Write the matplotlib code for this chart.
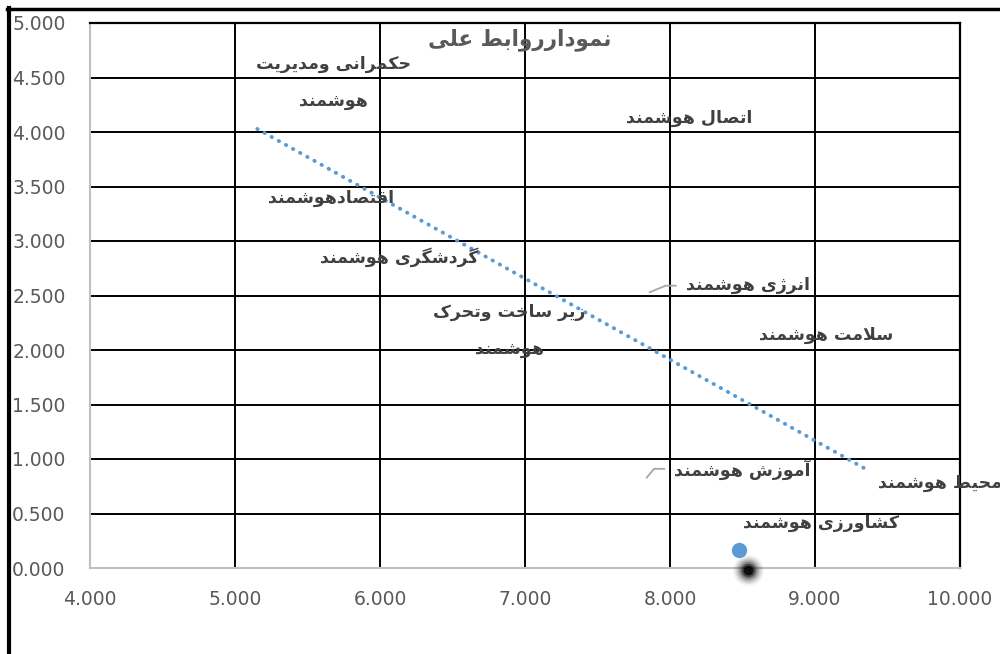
"""Causal relations scatter chart (Persian labels) with dotted linear trendline."""

import matplotlib
matplotlib.use("Agg")

import matplotlib.pyplot as plt
from matplotlib.lines import Line2D
import numpy as np

# ── data ────────────────────────────────────────────────────────────────
title = "نمودارروابط علی"
categories = [
    "حکمرانی ومدیریت\nهوشمند",
    "اتصال هوشمند",
    "اقتصادهوشمند",
    "گردشگری هوشمند",
    "زیر ساخت وتحرک\nهوشمند",
    "انرژی هوشمند",
    "سلامت هوشمند",
    "آموزش هوشمند",
    "محیط هوشمند",
    "کشاورزی هوشمند",
]
label_x = [5.68, 8.13, 5.66, 6.13, 6.89, 8.54, 9.08, 8.50, 9.86, 9.04]
label_y = [4.45, 4.13, 3.39, 2.85, 2.18, 2.60, 2.14, 0.90, 0.78, 0.41]

point_x = [8.476]
point_y = [0.167]
shadow_x = [8.54]
shadow_y = [-0.02]

trend_x = [5.154, 9.338]
trend_y = [4.028, 0.917]

x_ticks = [4, 5, 6, 7, 8, 9, 10]
y_ticks = [0, 0.5, 1, 1.5, 2, 2.5, 3, 3.5, 4, 4.5, 5]

# ── minimal Persian shaping (matplotlib has no complex text layout) ─────
FORMS = {
    "\u0627": ("\uFE8D", "\uFE8E", None, None),
    "\u0622": ("\uFE81", "\uFE82", None, None),
    "\u0628": ("\uFE8F", "\uFE90", "\uFE91", "\uFE92"),
    "\u067E": ("\uFB56", "\uFB57", "\uFB58", "\uFB59"),
    "\u062A": ("\uFE95", "\uFE96", "\uFE97", "\uFE98"),
    "\u062B": ("\uFE99", "\uFE9A", "\uFE9B", "\uFE9C"),
    "\u062C": ("\uFE9D", "\uFE9E", "\uFE9F", "\uFEA0"),
    "\u0686": ("\uFB7A", "\uFB7B", "\uFB7C", "\uFB7D"),
    "\u062D": ("\uFEA1", "\uFEA2", "\uFEA3", "\uFEA4"),
    "\u062E": ("\uFEA5", "\uFEA6", "\uFEA7", "\uFEA8"),
    "\u062F": ("\uFEA9", "\uFEAA", None, None),
    "\u0630": ("\uFEAB", "\uFEAC", None, None),
    "\u0631": ("\uFEAD", "\uFEAE", None, None),
    "\u0632": ("\uFEAF", "\uFEB0", None, None),
    "\u0698": ("\uFB8A", "\uFB8B", None, None),
    "\u0633": ("\uFEB1", "\uFEB2", "\uFEB3", "\uFEB4"),
    "\u0634": ("\uFEB5", "\uFEB6", "\uFEB7", "\uFEB8"),
    "\u0635": ("\uFEB9", "\uFEBA", "\uFEBB", "\uFEBC"),
    "\u0636": ("\uFEBD", "\uFEBE", "\uFEBF", "\uFEC0"),
    "\u0637": ("\uFEC1", "\uFEC2", "\uFEC3", "\uFEC4"),
    "\u0638": ("\uFEC5", "\uFEC6", "\uFEC7", "\uFEC8"),
    "\u0639": ("\uFEC9", "\uFECA", "\uFECB", "\uFECC"),
    "\u063A": ("\uFECD", "\uFECE", "\uFECF", "\uFED0"),
    "\u0641": ("\uFED1", "\uFED2", "\uFED3", "\uFED4"),
    "\u0642": ("\uFED5", "\uFED6", "\uFED7", "\uFED8"),
    "\u06A9": ("\uFB8E", "\uFB8F", "\uFB90", "\uFB91"),
    "\u06AF": ("\uFB92", "\uFB93", "\uFB94", "\uFB95"),
    "\u0644": ("\uFEDD", "\uFEDE", "\uFEDF", "\uFEE0"),
    "\u0645": ("\uFEE1", "\uFEE2", "\uFEE3", "\uFEE4"),
    "\u0646": ("\uFEE5", "\uFEE6", "\uFEE7", "\uFEE8"),
    "\u0648": ("\uFEED", "\uFEEE", None, None),
    "\u0647": ("\uFEE9", "\uFEEA", "\uFEEB", "\uFEEC"),
    "\u06CC": ("\uFBFC", "\uFBFD", "\uFBFE", "\uFBFF"),
}
LAM_ALEF = {"\u0627": ("\uFEFB", "\uFEFC"), "\u0622": ("\uFEF5", "\uFEF6")}


def _joins_next(c):
    return c in FORMS and FORMS[c][2] is not None


def shape_line(text):
    res = []
    i, n = 0, len(text)
    while i < n:
        c = text[i]
        if c not in FORMS:
            res.append(c)
            i += 1
            continue
        prev_j = i > 0 and _joins_next(text[i - 1])
        if c == "\u0644" and i + 1 < n and text[i + 1] in LAM_ALEF:
            iso, fin = LAM_ALEF[text[i + 1]]
            res.append(fin if prev_j else iso)
            i += 2
            continue
        next_j = _joins_next(c) and i + 1 < n and text[i + 1] in FORMS
        iso, fin, ini, med = FORMS[c]
        if prev_j and next_j:
            res.append(med)
        elif prev_j:
            res.append(fin)
        elif next_j:
            res.append(ini)
        else:
            res.append(iso)
        i += 1
    return "".join(reversed(res))


def fa(text):
    return "\n".join(shape_line(t) for t in text.split("\n"))


# ── figure ──────────────────────────────────────────────────────────────
plt.rcParams["font.family"] = ["DejaVu Sans"]

fig = plt.figure(figsize=(10, 6.54), dpi=100)
ax = fig.add_axes([0.09, 1 - 568 / 654, 0.87, 545 / 654])

ax.set_xlim(4, 10)
ax.set_ylim(0, 5)
ax.set_xticks(x_ticks)
ax.set_yticks(y_ticks)
ax.set_xticklabels([f"{v:.3f}" for v in x_ticks])
ax.set_yticklabels([f"{v:.3f}" for v in y_ticks])
ax.tick_params(length=0, labelsize=13.5, labelcolor="#595959")
ax.tick_params(axis="x", pad=16)
ax.tick_params(axis="y", pad=56)
for lab in ax.get_yticklabels():
    lab.set_horizontalalignment("left")

ax.grid(True, color="black", linewidth=1.4)
for side in ("left", "bottom"):
    ax.spines[side].set_color("#BFBFBF")
    ax.spines[side].set_linewidth(1.5)
for side in ("right", "top"):
    ax.spines[side].set_color("black")
    ax.spines[side].set_linewidth(1.6)

# trendline
ax.plot(trend_x, trend_y, color="#5B9BD5", linewidth=2.8,
        linestyle=(0, (0.1, 2.0)), dash_capstyle="round", zorder=3)

# shadowed point near the axis (soft black blob)
for r, a in [(22, 0.06), (19, 0.1), (16, 0.16), (13, 0.25), (10, 0.45),
             (7, 0.8)]:
    ax.plot(shadow_x, shadow_y, "o", color="black", markersize=r, alpha=a,
            markeredgewidth=0, clip_on=False, zorder=4)
ax.plot(point_x, point_y, "o", color="#5B9BD5", markersize=11,
        markeredgewidth=0, clip_on=False, zorder=5)

# data labels
for name, lx, ly in zip(categories, label_x, label_y):
    ax.text(lx, ly, fa(name), ha="center", va="center", fontsize=12.5,
            fontweight="bold", color="#404040", linespacing=2.35,
            clip_on=False, zorder=6)

# leader lines
for (x0, y0), (x1, y1), (x2, y2) in [
    ((7.86, 2.53), (7.97, 2.59), (8.04, 2.59)),
    ((7.84, 0.83), (7.89, 0.91), (7.96, 0.91)),
]:
    ax.plot([x0, x1, x2], [y0, y1, y2], color="#A6A6A6", linewidth=1.3,
            zorder=3)

fig.text(0.52, 1 - 40 / 654, fa(title), ha="center", va="center",
         fontsize=15.5, fontweight="bold", color="#595959")

# outer frame edges (left and top)
fig.add_artist(Line2D([0.009, 0.009], [0, 1 - 8 / 654], color="black",
                      linewidth=3.0, transform=fig.transFigure))
fig.add_artist(Line2D([0.007, 1.0], [1 - 8.5 / 654, 1 - 8.5 / 654],
                      color="black", linewidth=2.5,
                      transform=fig.transFigure))

fig.savefig("out.png", dpi=100, facecolor="white")
